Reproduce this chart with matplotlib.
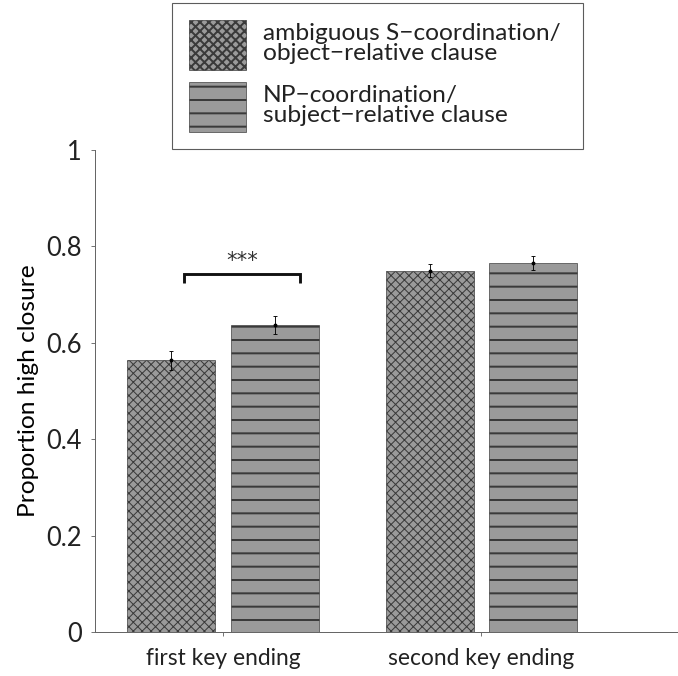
import matplotlib
matplotlib.use("Agg")
import matplotlib.pyplot as plt
import numpy as np

plt.rcParams['font.family'] = ['Lato', 'DejaVu Sans']

# data
categories = ["first key ending", "second key ending"]
series_labels = ["ambiguous S\u2212coordination/\nobject\u2212relative clause",
                 "NP\u2212coordination/\nsubject\u2212relative clause"]
ambiguous = [0.564, 0.750]
ambiguous_err = [0.020, 0.014]
np_coord = [0.637, 0.766]
np_coord_err = [0.019, 0.014]
yticks = [0, 0.2, 0.4, 0.6, 0.8, 1]

DPI = 80
fig = plt.figure(figsize=(678 / DPI, 676 / DPI), dpi=DPI)
ax = fig.add_axes([0.140, 0.065, 0.86, 0.713])

x = np.arange(1, len(categories) + 1)
w = 0.34
off = 0.2
face = "#9a9a9a"
edge = "#3a3a3a"

plt.rcParams['hatch.linewidth'] = 0.9
b1 = ax.bar(x - off, ambiguous, width=w, color=face, edgecolor=edge,
            linewidth=0.6, hatch="xxx", label=series_labels[0])
plt.rcParams['hatch.linewidth'] = 1.8
b2 = ax.bar(x + off, np_coord, width=w, color=face, edgecolor=edge,
            linewidth=0.6, hatch="-", label=series_labels[1])

ax.errorbar(x - off, ambiguous, yerr=ambiguous_err, fmt="o", color="black",
            markersize=2.5, elinewidth=0.8, capsize=1.5, capthick=0.8)
ax.errorbar(x + off, np_coord, yerr=np_coord_err, fmt="o", color="black",
            markersize=2.5, elinewidth=0.8, capsize=1.5, capthick=0.8)

# significance bracket over first pair
by = 0.742
bl, br = x[0] - off + 0.05, x[0] + off + 0.1
ax.plot([bl, bl, br, br], [by - 0.018, by, by, by - 0.018], color="#111111",
        linewidth=2.6, solid_capstyle="butt", solid_joinstyle="miter")
ax.text((bl + br) / 2, by + 0.008, "***", ha="center", va="bottom",
        fontsize=19, color="#333333", family="DejaVu Sans")

ax.set_xlim(0.505, 2.76)
ax.set_ylim(0, 1)
ax.set_xticks(x)
ax.set_xticklabels(categories, fontsize=20.5)
ax.set_yticks(yticks)
ax.set_yticklabels([f"{t:g}" for t in yticks], fontsize=23)
ax.set_ylabel("Proportion high closure", fontsize=22, labelpad=6)

for s in ["top", "right"]:
    ax.spines[s].set_visible(False)
for s in ["left", "bottom"]:
    ax.spines[s].set_color("#666666")
    ax.spines[s].set_linewidth(0.9)
ax.tick_params(axis="both", direction="out", length=4, width=0.8,
               color="#666666", colors="#222222")
ax.tick_params(axis="y", pad=8)
ax.tick_params(axis="x", pad=10)

leg = fig.legend(handles=[b1, b2], loc="upper left",
                 bbox_to_anchor=(0.254, 0.9956, 0.606, 0.0), mode="expand",
                 borderaxespad=0, fontsize=22, handlelength=2.3,
                 handleheight=2.75, handletextpad=0.7, labelspacing=0.5,
                 borderpad=0.7, fancybox=False, frameon=True)
leg.get_frame().set_edgecolor("#333333")
leg.get_frame().set_linewidth(1.0)
for t in leg.get_texts():
    t.set_linespacing(0.95)
    t.set_color("#222222")

fig.savefig("out.png", dpi=DPI)
